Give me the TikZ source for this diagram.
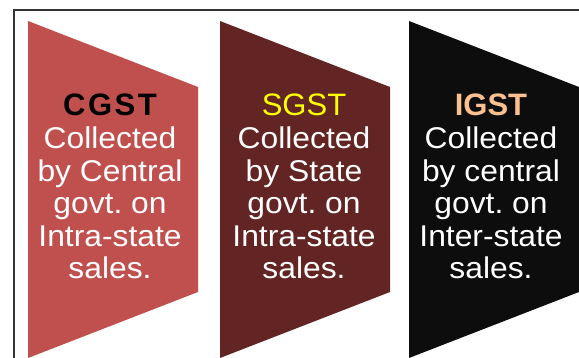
\documentclass[tikz,border=0pt]{standalone}
\usepackage{fontspec}
\setmainfont{Liberation Sans}
\newfontfamily\bodyfont[FakeStretch=1.06]{Liberation Sans}
\definecolor{cgstfill}{HTML}{C0504D}
\definecolor{sgstfill}{HTML}{632523}
\definecolor{igstfill}{HTML}{0D0D0D}
\definecolor{sgsttitle}{HTML}{FFFF00}
\definecolor{igsttitle}{HTML}{FAC090}
\tikzset{
  tagtext/.style={text=white, align=center, inner sep=0pt, anchor=north,
    font=\bodyfont\frenchspacing\fontsize{30}{32.6}\selectfont},
  frameline/.style={draw=black!80, line width=1.6pt}
}
\begin{document}
\begin{tikzpicture}[x=1pt,y=-1pt]
\useasboundingbox (0,0) rectangle (579,358);
\fill[white] (0,0) rectangle (579,358);
\draw[frameline] (14,360) -- (14,10) -- (581,10);
% shapes
\fill[cgstfill] (28,21) -- (198,87) -- (198,292) -- (28,358) -- cycle;
\fill[sgstfill] (220,21) -- (390,87) -- (390,292) -- (220,358) -- cycle;
\fill[igstfill] (409,21) -- (579,87) -- (579,292) -- (409,358) -- cycle;
\node[tagtext] (cgst) at (110,94) {{\rmfamily\fontsize{31}{32.6}\selectfont\bfseries\addfontfeature{LetterSpace=8}\textcolor{black}{CGST}}\\Collected\\by Central\\govt. on\\Intra-state\\sales.};
\node[tagtext] (sgst) at (304,94) {{\rmfamily\fontsize{31}{32.6}\selectfont\textcolor{sgsttitle}{SGST}}\\Collected\\by State\\govt. on\\Intra-state\\sales.};
\node[tagtext] (igst) at (491,94) {{\rmfamily\fontsize{31}{32.6}\selectfont\bfseries\textcolor{igsttitle}{IGST}}\\Collected\\by central\\govt. on\\Inter-state\\sales.};
\end{tikzpicture}
\end{document}
